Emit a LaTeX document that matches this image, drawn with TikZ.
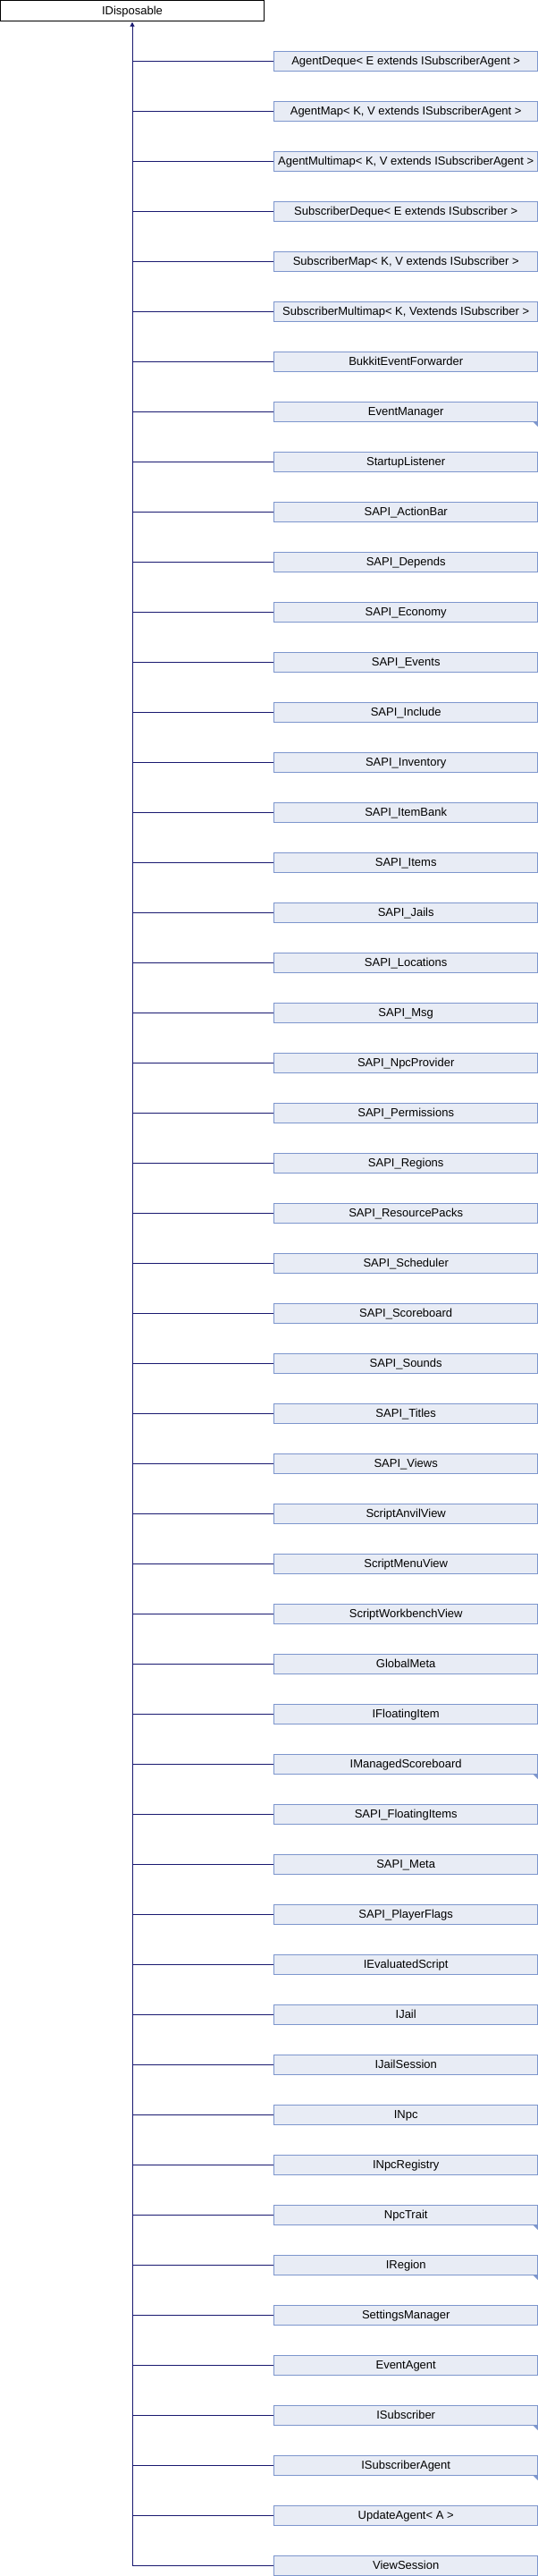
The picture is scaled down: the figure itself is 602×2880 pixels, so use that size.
\documentclass[tikz,border=0pt]{standalone}
\usepackage{fontspec}
\setmainfont{Liberation Sans}
\usetikzlibrary{arrows.meta}
\definecolor{edgeblue}{HTML}{191970}
\definecolor{boxfill}{HTML}{E8ECF5}
\definecolor{boxline}{HTML}{7D96CD}
\begin{document}
\begin{tikzpicture}[x=1pt,y=-1pt,
  rootbox/.style={draw=black,fill=white,line width=1pt,minimum width=295pt,minimum height=22.5pt,inner sep=0pt,text height=9.3pt,text depth=0pt,font=\fontsize{13pt}{15pt}\selectfont},
  classbox/.style={draw=boxline,fill=boxfill,line width=1pt,minimum width=294.5pt,minimum height=22.5pt,inner sep=0pt,text height=9.3pt,text depth=0pt,font=\fontsize{13pt}{15pt}\selectfont},
  edge/.style={draw=edgeblue,line width=1pt},
  inherit/.style={edge,{Triangle[length=5pt,width=5pt]}-}]
\useasboundingbox (0,0) rectangle (602,2880);
\node[rootbox] (root) at (148,11.75) {IDisposable};
\foreach \t [count=\i] in {
 {AgentDeque< E extends ISubscriberAgent >},
 {AgentMap< K, V extends ISubscriberAgent >},
 {AgentMultimap< K, V extends ISubscriberAgent >},
 {SubscriberDeque< E extends ISubscriber >},
 {SubscriberMap< K, V extends ISubscriber >},
 {SubscriberMultimap< K, Vextends ISubscriber >},
 {BukkitEventForwarder},
 {EventManager},
 {StartupListener},
 {SAPI\_ActionBar},
 {SAPI\_Depends},
 {SAPI\_Economy},
 {SAPI\_Events},
 {SAPI\_Include},
 {SAPI\_Inventory},
 {SAPI\_ItemBank},
 {SAPI\_Items},
 {SAPI\_Jails},
 {SAPI\_Locations},
 {SAPI\_Msg},
 {SAPI\_NpcProvider},
 {SAPI\_Permissions},
 {SAPI\_Regions},
 {SAPI\_ResourcePacks},
 {SAPI\_Scheduler},
 {SAPI\_Scoreboard},
 {SAPI\_Sounds},
 {SAPI\_Titles},
 {SAPI\_Views},
 {ScriptAnvilView},
 {ScriptMenuView},
 {ScriptWorkbenchView},
 {GlobalMeta},
 {IFloatingItem},
 {IManagedScoreboard},
 {SAPI\_FloatingItems},
 {SAPI\_Meta},
 {SAPI\_PlayerFlags},
 {IEvaluatedScript},
 {IJail},
 {IJailSession},
 {INpc},
 {INpcRegistry},
 {NpcTrait},
 {IRegion},
 {SettingsManager},
 {EventAgent},
 {ISubscriber},
 {ISubscriberAgent},
 {UpdateAgent< A >},
 {ViewSession}} {
  \pgfmathsetmacro{\yy}{68.3+56*(\i-1)}
  \node[classbox] (c\i) at (454.2,\yy) {\t};
  \coordinate (j\i) at (148,\yy);
  \draw[edge] (j\i) -- (c\i.west);
}
\foreach \i in {8,35,44,45,48,49} {
  \fill[boxline] ([xshift=-5.5pt,yshift=0.5pt]c\i.south east) -- ([xshift=0.5pt,yshift=0.5pt]c\i.south east) -- ([xshift=0.5pt,yshift=-5.5pt]c\i.south east) -- cycle;
}
\draw[inherit,shorten <=1.2pt] (root.south) -- (j51);
\end{tikzpicture}
\end{document}
